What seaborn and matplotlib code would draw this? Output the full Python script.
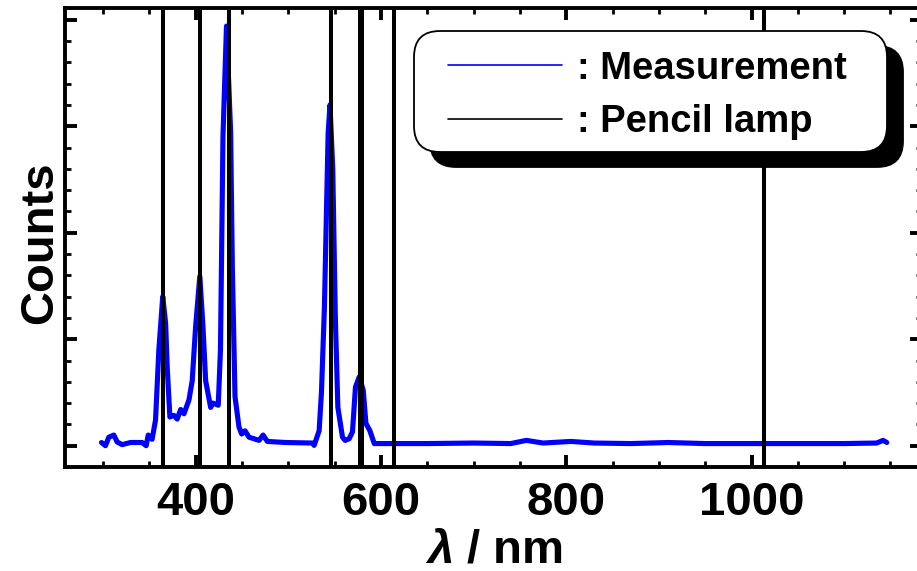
import matplotlib
matplotlib.use("Agg")
import matplotlib.pyplot as plt
import pandas as pd
import seaborn as sns
from matplotlib.ticker import MultipleLocator, NullFormatter
from matplotlib.patches import FancyBboxPatch
from matplotlib.lines import Line2D
from matplotlib.transforms import IdentityTransform

# Measured emission spectrum (wavelength in nm, counts in arbitrary units)
wavelength_nm = [298.4, 302.7, 306.3, 311.7, 315.3, 320.6, 329.7, 342.3, 346.6, 348.8,
                 353.0, 356.7, 360.3, 364.5, 367.6, 369.3, 372.2, 376.5, 380.1, 383.8,
                 387.4, 392.8, 396.3, 400.0, 404.5, 407.9, 410.8, 416.2, 418.7, 424.4,
                 426.8, 429.5, 433.3, 437.8, 439.6, 442.5, 446.8, 449.7, 453.3, 457.6,
                 468.4, 472.8, 477.4, 497.3, 526.0, 527.9, 533.3, 535.8, 539.0, 543.0,
                 545.0, 548.0, 550.8, 553.5, 558.5, 561.4, 565.7, 569.3, 572.5, 576.5,
                 580.9, 583.8, 588.1, 592.8, 605.4, 650.0, 700.0, 740.0, 757.0, 775.0,
                 805.0, 830.0, 870.0, 910.0, 950.0, 1000.0, 1050.0, 1100.0, 1135.0, 1142.0,
                 1146.0]
counts = [0.03, 0.0, 0.08, 0.10, 0.035, 0.01, 0.03, 0.03, 0.0, 0.10,
          0.06, 0.24, 0.90, 1.40, 1.15, 0.74, 0.27, 0.285, 0.25, 0.34,
          0.30, 0.43, 0.61, 1.12, 1.59, 1.12, 0.61, 0.36, 0.40, 0.38,
          0.9, 2.9, 3.94, 2.94, 1.68, 0.46, 0.175, 0.11, 0.14, 0.08,
          0.05, 0.10, 0.04, 0.03, 0.025, 0.003, 0.14, 0.5, 1.3, 2.93,
          3.2, 2.6, 1.2, 0.36, 0.08, 0.05, 0.065, 0.13, 0.55, 0.645,
          0.52, 0.21, 0.14, 0.02, 0.02, 0.02, 0.025, 0.02, 0.05, 0.025,
          0.04, 0.025, 0.02, 0.03, 0.02, 0.02, 0.02, 0.02, 0.025, 0.05,
          0.03]

# Reference emission lines of the pencil lamp (nm)
lamp_lines_nm = [365.0, 404.7, 435.8, 546.1, 577.0, 579.1, 614.3, 1014.0]

legend_labels = [": Measurement", ": Pencil lamp"]
x_label = r"$\lambda$ / nm"
y_label = "Counts"

sns.set_theme(style="ticks")
plt.rcParams["font.family"] = ["Liberation Sans", "DejaVu Sans"]
plt.rcParams["font.weight"] = "bold"
plt.rcParams["mathtext.fontset"] = "custom"
plt.rcParams["mathtext.it"] = "Liberation Sans:italic:bold"
plt.rcParams["mathtext.rm"] = "Liberation Sans:bold"
for key in ["text.color", "axes.labelcolor", "xtick.color", "ytick.color",
            "xtick.labelcolor", "ytick.labelcolor", "axes.edgecolor"]:
    plt.rcParams[key] = "black"

W, H = 917, 571
fig = plt.figure(figsize=(W / 100, H / 100), dpi=100)
fig.patch.set_facecolor("white")
ax = fig.add_axes([65 / W, 1 - 467 / H, (922 - 65) / W, (467 - 8) / H])
ax.set_facecolor("white")

spectrum = pd.DataFrame({"wavelength": wavelength_nm, "counts": counts})
sns.lineplot(data=spectrum, x="wavelength", y="counts", ax=ax, sort=False,
             color="#0000ff", linewidth=3.7, zorder=2, legend=False,
             solid_joinstyle="round", solid_capstyle="round")

for wl in lamp_lines_nm:
    ax.axvline(wl, color="black", linewidth=2.9, zorder=3)

ax.set_xlim(259, 1184)
ax.set_ylim(-0.2, 4.11)

ax.xaxis.set_major_locator(MultipleLocator(200))
ax.xaxis.set_minor_locator(MultipleLocator(50))
ax.yaxis.set_major_locator(MultipleLocator(1))
ax.yaxis.set_minor_locator(MultipleLocator(0.2))
ax.yaxis.set_major_formatter(NullFormatter())

ax.tick_params(which="both", direction="in", top=True, right=True,
               color="black", labelcolor="black")
ax.tick_params(which="major", length=8.5, width=2.8, labelsize=34, pad=10)
ax.tick_params(which="minor", length=4.3, width=2.0)
for lab in ax.get_xticklabels():
    lab.set_fontweight("bold")

for side in ["left", "right", "top", "bottom"]:
    ax.spines[side].set_visible(True)
    ax.spines[side].set_linewidth(2.8)
    ax.spines[side].set_color("black")

ax.set_xlabel(x_label, fontsize=34, fontweight="bold", color="black")
ax.set_ylabel(y_label, fontsize=34, fontweight="bold", color="black")
ax.xaxis.set_label_coords(0.5, -0.133)
ax.yaxis.set_label_coords(-0.003, 0.488)

# Rounded legend frame with a solid drop shadow
box_x, box_y, box_w, box_h = 414, H - 152, 473, 121
shadow = FancyBboxPatch((box_x + 16, box_y - 15), box_w, box_h,
                        boxstyle="round,pad=0,rounding_size=26",
                        transform=IdentityTransform(), facecolor="black",
                        edgecolor="black", linewidth=1.3, zorder=4, clip_on=False)
frame = FancyBboxPatch((box_x, box_y), box_w, box_h,
                       boxstyle="round,pad=0,rounding_size=26",
                       transform=IdentityTransform(), facecolor="white",
                       edgecolor="black", linewidth=1.3, zorder=4.1, clip_on=False)
ax.add_artist(shadow)
ax.add_artist(frame)

handles = [Line2D([], [], color="#0000ff", linewidth=1.2),
           Line2D([], [], color="black", linewidth=1.2)]
leg = ax.legend(handles, legend_labels, loc="center left",
                bbox_to_anchor=(448 / W, 1 - 95.3 / H), bbox_transform=fig.transFigure,
                frameon=False, borderpad=0, borderaxespad=0,
                handlelength=2.98, handletextpad=0.39, labelspacing=0.45,
                prop={"size": 27.5, "weight": "bold"})
for t in leg.get_texts():
    t.set_color("black")
leg.set_zorder(5)

fig.savefig("out.png", dpi=100, facecolor="white")
